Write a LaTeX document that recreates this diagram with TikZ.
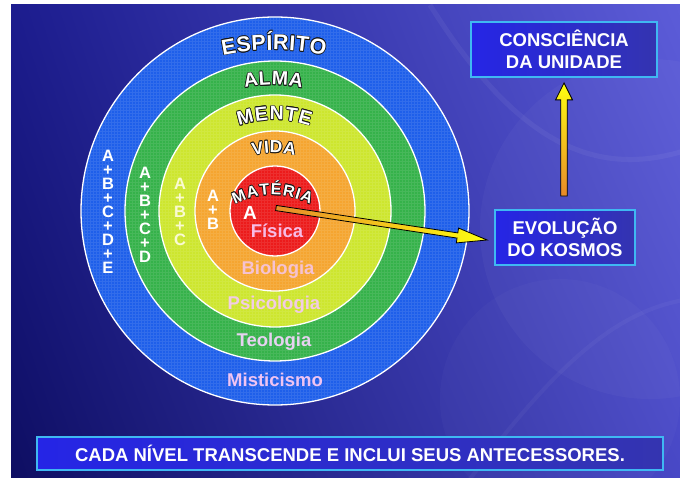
\documentclass[tikz,border=0pt]{standalone}
\usepackage{fontspec}
\setmainfont{Liberation Sans}
\usetikzlibrary{decorations.text,calc,shadings}

\definecolor{bgUL}{HTML}{1C1C8E}
\definecolor{bgUR}{HTML}{5C5CD8}
\definecolor{bgLL}{HTML}{0E0E62}
\definecolor{bgLR}{HTML}{4848C6}
\definecolor{ringblue}{HTML}{1E5FEA}
\definecolor{ringgreen}{HTML}{35B24A}
\definecolor{ringlime}{HTML}{CDE62E}
\definecolor{ringorange}{HTML}{F5A530}
\definecolor{ringred}{HTML}{EC1B1B}
\definecolor{boxA}{HTML}{2525E6}
\definecolor{boxB}{HTML}{3434B0}
\definecolor{boxedge}{HTML}{3FB8F2}
\definecolor{arrorange}{HTML}{E88A2A}
\definecolor{arryellow}{HTML}{FFFF10}
\definecolor{fisicac}{HTML}{F7BCE6}
\definecolor{bioc}{HTML}{F5C2D2}
\definecolor{psic}{HTML}{F2CCE4}
\definecolor{teoc}{HTML}{E6D2F0}
\definecolor{misc}{HTML}{F0C4F2}
\definecolor{palec}{HTML}{FAFAD2}
\definecolor{outl}{HTML}{151515}

\newcommand\ringtext[6]{%
  \foreach \dx/\dy in {-0.75/0,0.75/0,0/-0.75,0/0.75,-0.53/-0.53,0.53/0.53,-0.53/0.53,0.53/-0.53}{%
    \begin{scope}[shift={(\dx,\dy)}]
    \path[decorate, decoration={text along path, text align=fit to path, text color=outl,
      text={|\bfseries\fontsize{#5}{#5}\selectfont|#6}}]
      ({#1+#3*cos(90+#4)},{#2+#3*sin(90+#4)}) arc[start angle=90+#4, end angle=90-#4, radius=#3];
    \end{scope}}%
  \path[decorate, decoration={text along path, text align=fit to path, text color=white,
      text={|\bfseries\fontsize{#5}{#5}\selectfont|#6}}]
      ({#1+#3*cos(90+#4)},{#2+#3*sin(90+#4)}) arc[start angle=90+#4, end angle=90-#4, radius=#3];
}

\tikzset{
  ringsep/.style={draw=white, line width=1.3pt},
  bluebox/.style={draw=boxedge, line width=1.8pt, left color=boxA, right color=boxB,
    text=white, font=\bfseries\fontsize{18.5}{21.5}\selectfont, align=center, inner sep=0pt},
  stack/.style={font=\bfseries\fontsize{16.5}{14}\selectfont, align=center, inner sep=0pt, text=white},
  science/.style={font=\bfseries\fontsize{18.5}{18.5}\selectfont, inner sep=0pt, anchor=base},
  fatarrow/.style={draw=black, line width=0.8pt, line join=miter},
}

\begin{document}
\begin{tikzpicture}[x=1pt,y=1pt]
\useasboundingbox (0,0) rectangle (680,479);
\fill[white] (0,0) rectangle (680,479);
% background
\shade[upper left=bgUL, upper right=bgUR, lower left=bgLL, lower right=bgLR] (11,1) rectangle (680,474);
\begin{scope}
  \clip (11,1) rectangle (680,474);
  \fill[white, opacity=0.03] (650,250) circle (170);
  \fill[white, opacity=0.025] (560,80) circle (120);
  \draw[white, opacity=0.05, line width=5pt] (430,474) .. controls (520,330) and (600,300) .. (690,330);
  \draw[white, opacity=0.04, line width=4pt] (470,0) .. controls (560,120) and (620,170) .. (690,180);
\end{scope}

% rings
\coordinate (C) at (275,268);
\fill[ringblue] (C) circle (194);
\fill[ringgreen] (C) circle (150);
\fill[ringlime] (C) circle (116);
\fill[ringorange] (C) circle (80);
\fill[ringred] (C) circle (45);
\begin{scope}
  \clip (C) circle (194);
  \draw[white, opacity=0.09, line width=0.35pt, step=3] (78,70) grid (474,466);
\end{scope}
\draw[ringsep] (C) circle (194);
\draw[ringsep] (C) circle (150);
\draw[ringsep] (C) circle (116);
\draw[ringsep] (C) circle (80);
\draw[ringsep] (C) circle (45);

% arc labels
\ringtext{274}{179}{250}{11.8}{21.5}{ESPÍRITO}
\ringtext{273.5}{264}{130}{12.7}{19.5}{ALMA}
\ringtext{274.5}{249}{110}{18.8}{19.5}{MENTE}
\ringtext{274}{236}{90}{13.5}{17.5}{VIDA}
\ringtext{272.5}{204}{80}{28}{16}{MATÉRIA}

% stacked columns
\node[stack] (c5) at (108,267.5) {A\\+\\B\\+\\C\\+\\D\\+\\E};
\node[stack] (c4) at (145,264.5) {A\\+\\B\\+\\C\\+\\D};
\node[stack, text=palec] (c3) at (180,267.5) {A\\+\\B\\+\\C};
\node[stack] (c2) at (213,269) {A\\+\\B};

% inner labels
\node[science, text=white, font=\bfseries\fontsize{19}{19}\selectfont] (lA) at (250,259) {A};
\node[science, text=fisicac] (fis) at (277,241) {Física};
\node[science, text=bioc] (bio) at (278,204) {Biologia};
\node[science, text=psic] (psi) at (274,169) {Psicologia};
\node[science, text=teoc] (teo) at (274,132) {Teologia};
\node[science, text=misc] (mis) at (275,92) {Misticismo};

% boxes
\node[bluebox, minimum width=186pt, minimum height=55pt] (cons) at (564,429.5) {CONSCIÊNCIA\\DA UNIDADE};
\node[bluebox, minimum width=140pt, minimum height=55pt] (evo) at (565,241.5) {EVOLUÇÃO\\DO KOSMOS};
\node[bluebox, minimum width=626pt, minimum height=33pt] (note) at (350,25.5) {CADA NÍVEL TRANSCENDE E INCLUI SEUS ANTECESSORES.};

% arrow from centre to EVOLUCAO
\coordinate (s1) at (276,271);
\coordinate (t1) at ($(evo.west)+(-7,-2.5)$);
\coordinate (h1) at ($(t1)!30pt!(s1)$);
\shadedraw[fatarrow, left color=arrorange, right color=arryellow]
  ($(s1)!2.6pt!90:(t1)$) -- ($(h1)!2.6pt!90:(t1)$) -- ($(h1)!7.5pt!90:(t1)$) -- (t1)
  -- ($(h1)!7.5pt!-90:(t1)$) -- ($(h1)!2.6pt!-90:(t1)$) -- ($(s1)!2.6pt!-90:(t1)$) -- cycle;

% arrow from EVOLUCAO up to CONSCIENCIA
\coordinate (s2) at ($(cons.south |- evo.north)+(0,13)$);
\coordinate (t2) at ($(cons.south)+(0,-5)$);
\coordinate (h2) at ($(t2)!17pt!(s2)$);
\shadedraw[fatarrow, bottom color=arrorange, top color=arryellow]
  ($(s2)!3.2pt!90:(t2)$) -- ($(h2)!3.2pt!90:(t2)$) -- ($(h2)!8.5pt!90:(t2)$) -- (t2)
  -- ($(h2)!8.5pt!-90:(t2)$) -- ($(h2)!3.2pt!-90:(t2)$) -- ($(s2)!3.2pt!-90:(t2)$) -- cycle;
\end{tikzpicture}
\end{document}
